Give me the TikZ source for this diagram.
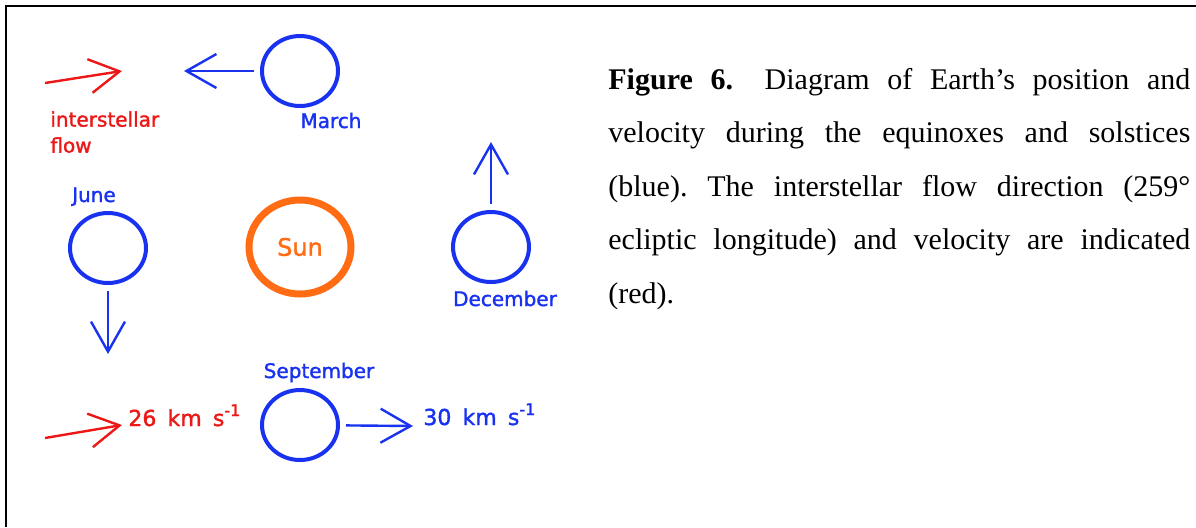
\documentclass[tikz,border=0pt]{standalone}
\usepackage{fontspec}
\setmainfont{Liberation Serif}
\newfontfamily\idlfont[WordSpace=1.6,FakeBold=1.6]{DejaVu Sans}
\usetikzlibrary{arrows.meta,shapes.geometric}
\definecolor{earthblue}{RGB}{24,50,240}
\definecolor{flowred}{RGB}{236,24,24}
\definecolor{sunorange}{RGB}{255,108,20}

\begin{document}
\begin{tikzpicture}[x=0.5pt,y=-0.5pt,
  earth/.style={ellipse,draw=earthblue,line width=2pt,minimum width=38pt,minimum height=35pt,inner sep=0pt},
  vel/.style={draw=earthblue,line width=1.2pt,shorten <=3pt,-{Straight Barb[length=15pt,width=17pt]}},
  flow/.style={draw=flowred,line width=1.2pt,-{Straight Barb[length=15pt,width=17pt]}},
  month/.style={text=earthblue,inner sep=0pt,anchor=base,font=\idlfont\fontsize{10pt}{12pt}\selectfont},
  speed/.style={inner sep=0pt,anchor=base west,font=\idlfont\fontsize{11pt}{13pt}\selectfont},
  caption/.style={anchor=base west,inner sep=0pt,text width=291pt,align=justify,font=\fontsize{15pt}{26.75pt}\selectfont\frenchspacing}]
\useasboundingbox (0,0) rectangle (1196,527);
\draw[line width=1pt] (1196,6) -- (6,6) -- (6,527);

% Sun and Earth
\node[ellipse,draw=sunorange,line width=3.5pt,minimum width=51pt,minimum height=47pt,inner sep=0pt,
  text=sunorange,font=\idlfont\fontsize{12pt}{14pt}\selectfont] (sun) at (300,247) {Sun};
\node[earth] (march) at (300,71) {};
\node[earth] (june) at (108,248) {};
\node[earth] (dec) at (491,247) {};
\node[earth] (sept) at (300,425) {};

\node[month] (marchlbl) at (331,128) {March};
\node[month] (junelbl) at (94,202) {June};
\node[month] (declbl) at (505,306) {December};
\node[month] (septlbl) at (319,378) {September};

% velocity of Earth
\coordinate (marchtip) at (184,71);
\coordinate (junetip) at (108,354);
\coordinate (dectip) at (491,142);
\coordinate (septtip) at (413,426);
\draw[vel] (march) -- (marchtip);
\draw[vel] (june) -- (junetip);
\draw[vel] (dec) -- (dectip);
\draw[vel] (sept) -- (septtip);
\node[speed,text=earthblue] (earthv) at (423,425) {30 km s\raisebox{5pt}{\fontsize{8pt}{9pt}\selectfont-1}};

% interstellar flow
\coordinate (flowtail) at (45,83);
\coordinate (flowtip) at (122,71);
\coordinate (vtail) at (45,438);
\coordinate (vtip) at (122,425);
\draw[flow] (flowtail) -- (flowtip);
\draw[flow] (vtail) -- (vtip);
\node[text=flowred,inner sep=0pt,anchor=north west,align=left,
  font=\idlfont\fontsize{10pt}{13pt}\selectfont] (flowlbl) at (50,111) {interstellar\\flow};
\node[speed,text=flowred] (flowv) at (128,426) {26 km s\raisebox{5pt}{\fontsize{8pt}{9pt}\selectfont-1}};

\node[caption] (cap) at (608,89) {\textbf{Figure 6.}\hspace{7pt} Diagram of Earth’s position and\linebreak
  velocity during the equinoxes and solstices\linebreak
  (blue). The interstellar flow direction (259°\linebreak
  ecliptic longitude) and velocity are indicated\linebreak
  (red).};
\end{tikzpicture}
\end{document}
